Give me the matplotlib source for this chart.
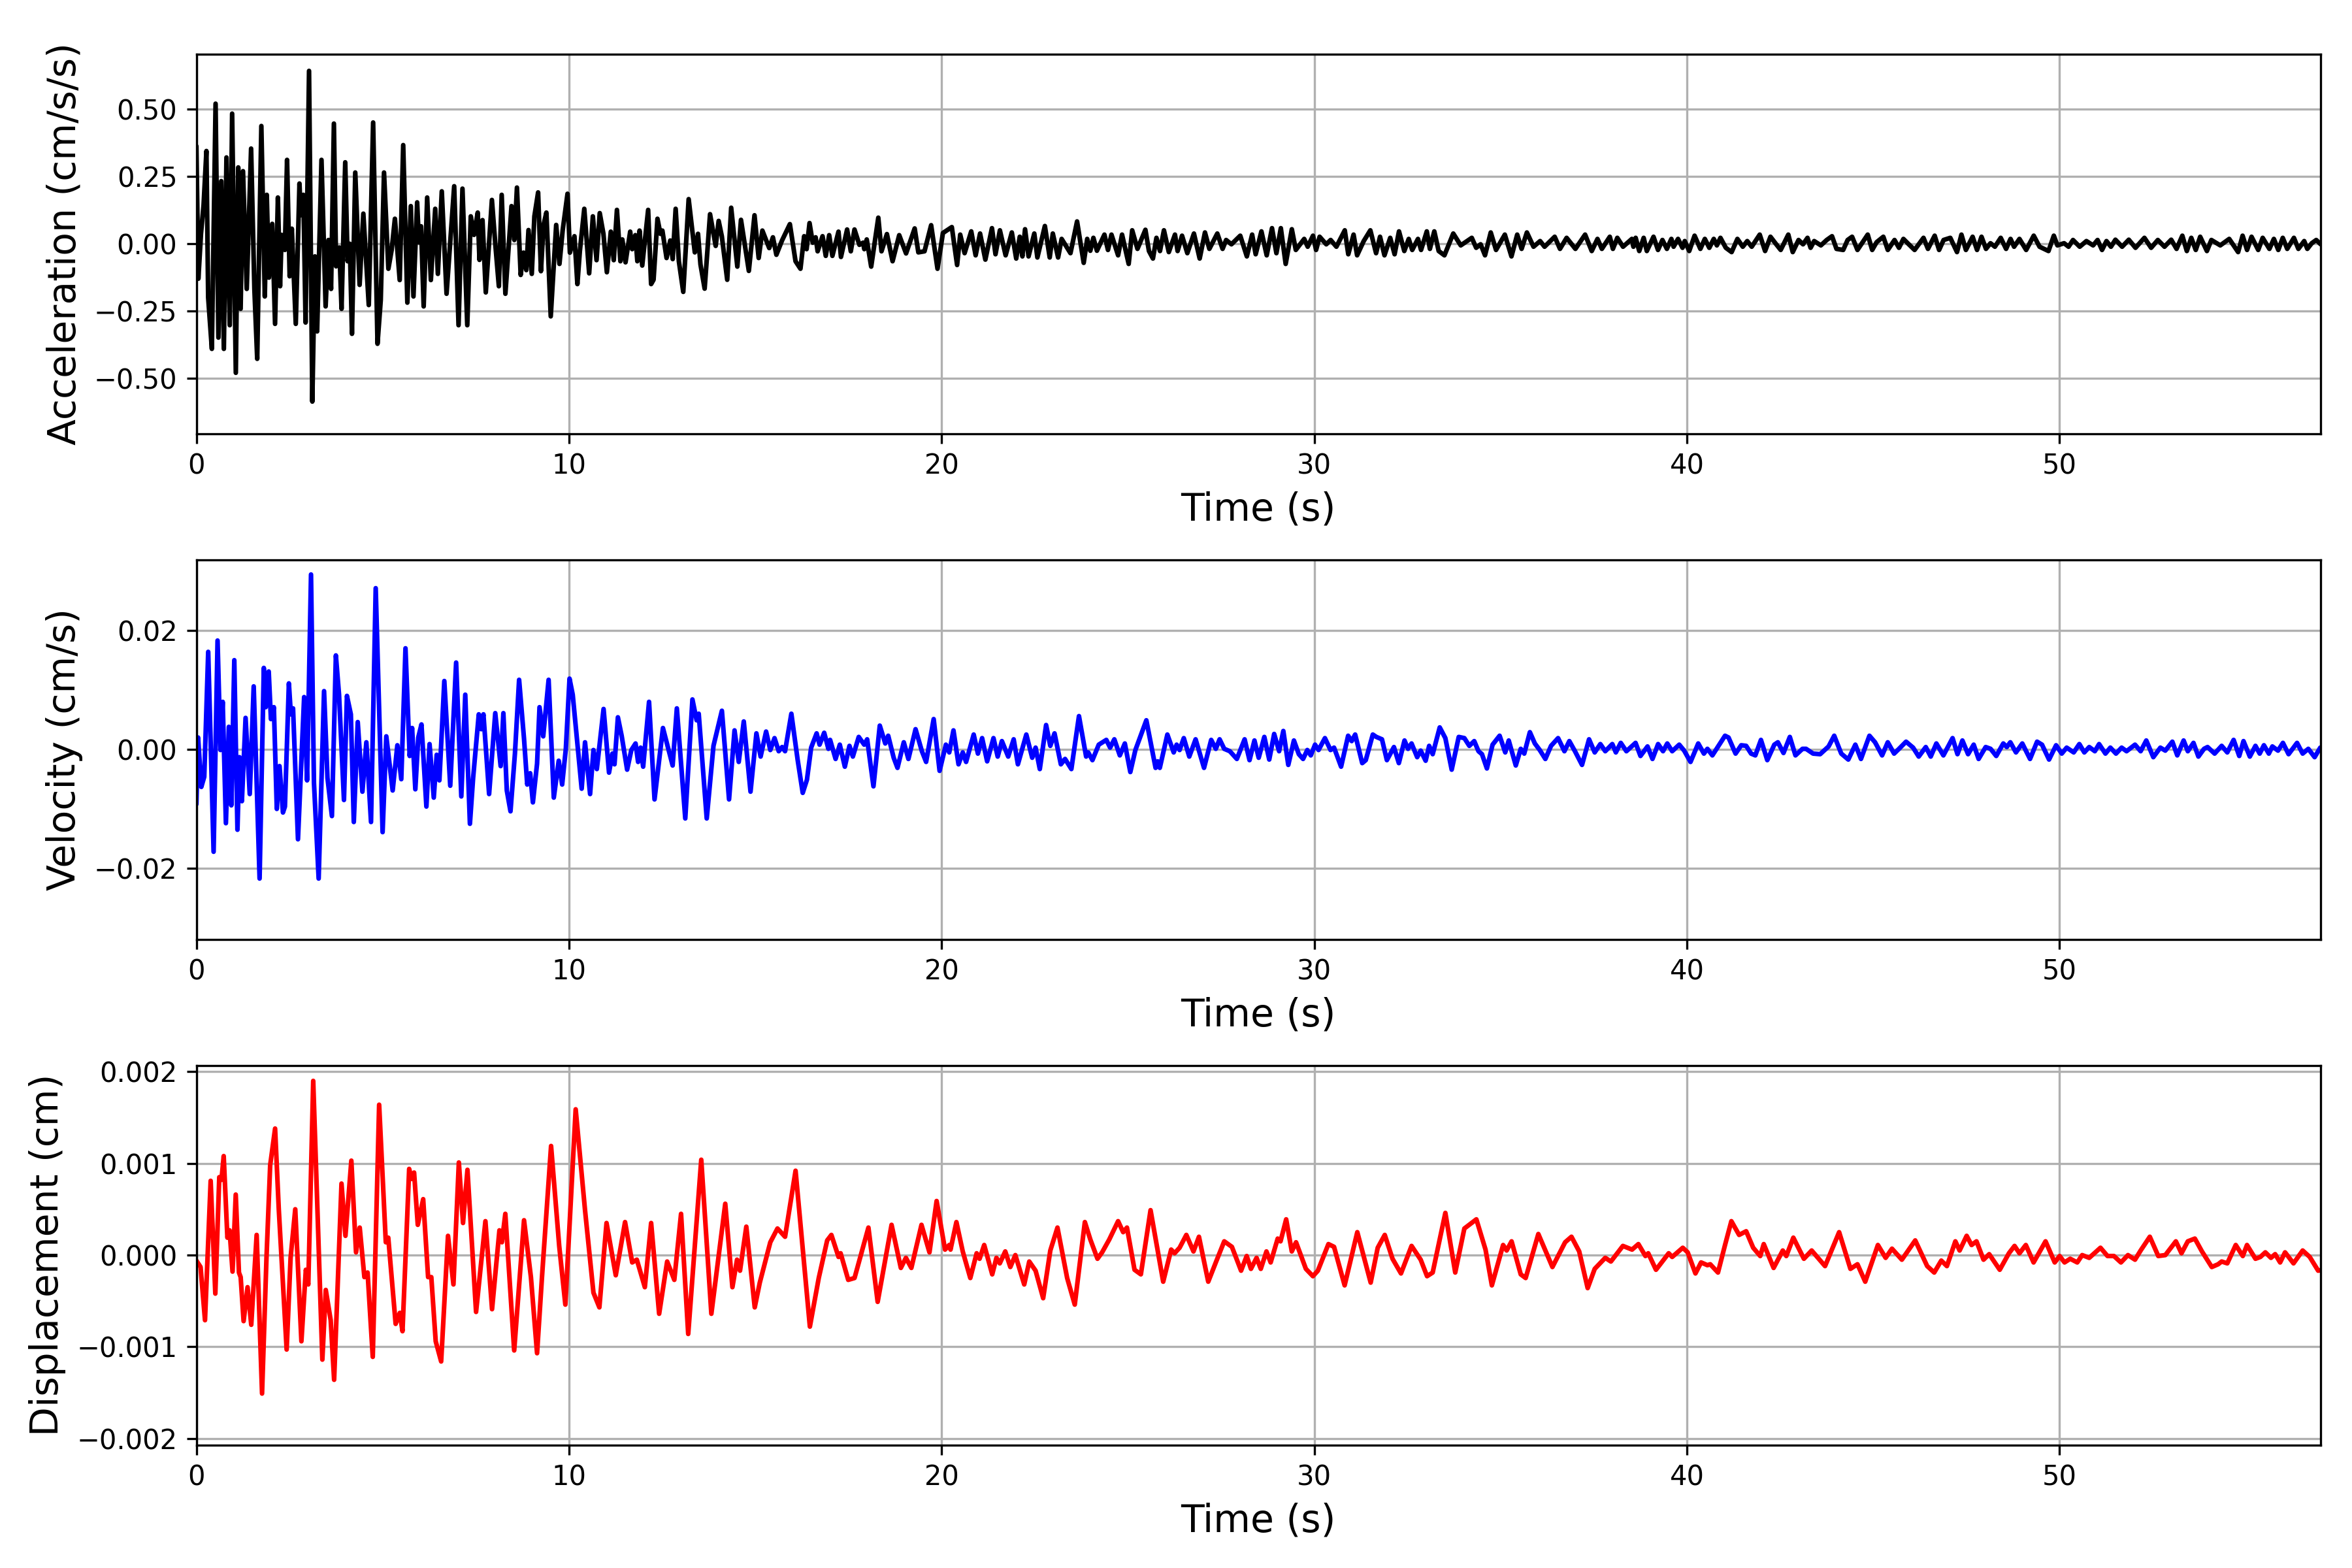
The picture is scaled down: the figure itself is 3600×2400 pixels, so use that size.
import matplotlib
matplotlib.use("Agg")
import matplotlib.pyplot as plt

# ---------------- Acceleration (cm/s/s) ----------------
acc_t = [
    0.0, 0.053, 0.123, 0.193, 0.269, 0.316, 0.415, 0.515, 0.591, 0.667,
    0.737, 0.807, 0.895, 0.959, 1.058, 1.123, 1.187, 1.251, 1.351, 1.468,
    1.556, 1.632, 1.743, 1.836, 1.889, 1.947, 2.035, 2.111, 2.187, 2.246,
    2.287, 2.374, 2.433, 2.503, 2.561, 2.667, 2.766, 2.801, 2.871, 2.930,
    3.023, 3.111, 3.181, 3.240, 3.357, 3.468, 3.544, 3.614, 3.690, 3.749,
    3.836, 3.895, 3.994, 4.058, 4.117, 4.175, 4.263, 4.380, 4.480, 4.626,
    4.743, 4.860, 4.947, 5.035,
    5.152, 5.240, 5.327, 5.456, 5.550, 5.661, 5.754, 5.825, 5.924, 5.971,
    6.029, 6.099, 6.193, 6.292, 6.409, 6.480, 6.585, 6.713, 6.918, 7.035,
    7.140, 7.269, 7.363, 7.450, 7.550, 7.596, 7.678, 7.766, 7.930, 8.029,
    8.117, 8.193, 8.292, 8.456, 8.532, 8.602, 8.702, 8.778, 8.854, 8.912,
    9.000, 9.070, 9.170, 9.246, 9.316, 9.392, 9.509, 9.655, 9.743, 9.830,
    9.959, 10.023,
    10.145, 10.224, 10.290, 10.409, 10.540, 10.639, 10.738, 10.824, 10.923, 11.015,
    11.121, 11.200, 11.285, 11.378, 11.430, 11.516, 11.641, 11.694, 11.780, 11.833,
    11.892, 11.964, 12.123, 12.202, 12.268, 12.373, 12.452, 12.505, 12.617, 12.716,
    12.782, 12.861, 12.947, 13.065, 13.210, 13.375, 13.461, 13.527, 13.639, 13.784,
    13.935, 14.015, 14.100, 14.245, 14.351, 14.516, 14.614, 14.825, 14.977, 15.089,
    15.188, 15.372, 15.471, 15.564, 15.715, 15.926, 16.078, 16.210, 16.309, 16.375,
    16.454, 16.539, 16.618, 16.671, 16.803, 16.889, 16.981, 17.067, 17.231, 17.297,
    17.462, 17.561, 17.660, 17.792, 17.891, 17.923, 17.989, 18.108, 18.299, 18.385,
    18.530, 18.682, 18.860, 19.044, 19.275, 19.374, 19.539, 19.717, 19.888, 20.033,
    20.272, 20.414, 20.497, 20.615, 20.793, 20.911, 21.030, 21.172, 21.349, 21.444,
    21.562, 21.716, 21.882, 22.000, 22.095, 22.166, 22.237, 22.331, 22.485, 22.568,
    22.769, 22.899, 22.982, 23.124, 23.219, 23.456, 23.633, 23.811, 23.905, 23.988,
    24.071, 24.166, 24.367, 24.462, 24.556, 24.734, 24.840, 25.018, 25.112, 25.254,
    25.467, 25.562, 25.669, 25.763, 25.858, 25.964, 26.095, 26.260, 26.331, 26.450,
    26.592, 26.769, 26.923, 27.065, 27.183, 27.396, 27.538, 27.633, 27.775, 28.012,
    28.189, 28.331, 28.426, 28.580, 28.722, 28.864, 28.982, 29.101, 29.231, 29.396,
    29.503, 29.728, 29.822, 29.964, 30.047, 30.142, 30.320, 30.438, 30.592, 30.817,
    30.911, 31.053, 31.148, 31.325, 31.503, 31.657, 31.763, 31.882, 32.036, 32.154,
    32.272, 32.414, 32.533, 32.627, 32.781, 32.864, 33.018, 33.101, 33.219, 33.337,
    33.491, 33.728, 33.929, 34.225, 34.343, 34.462, 34.580, 34.734, 34.876, 35.112,
    35.290, 35.444, 35.562, 35.704, 35.882, 36.059, 36.178, 36.450, 36.592, 36.770,
    37.006, 37.266, 37.444, 37.598, 37.716, 37.929, 38.012, 38.130, 38.284, 38.521,
    38.563, 38.623, 38.719, 38.838, 38.922, 39.102, 39.222, 39.341, 39.461, 39.581,
    39.641, 39.760, 39.880, 39.940, 40.060, 40.204, 40.359, 40.479, 40.599, 40.719,
    40.802, 40.898, 41.042, 41.198, 41.353, 41.497, 41.617, 41.737, 41.952, 42.096,
    42.240, 42.395, 42.515, 42.719, 42.838, 42.994, 43.114, 43.234, 43.317, 43.413,
    43.593, 43.749, 43.892, 44.012, 44.192, 44.311, 44.431, 44.575, 44.850, 44.970,
    45.090, 45.269, 45.389, 45.569, 45.689, 45.808, 45.952, 46.108, 46.347, 46.467,
    46.647, 46.766, 46.886, 47.066, 47.246, 47.365, 47.485, 47.665, 47.784, 47.904,
    48.024, 48.144, 48.263, 48.419, 48.563, 48.683, 48.778, 48.922, 49.102, 49.305,
    49.461, 49.701, 49.844, 49.940, 50.120, 50.240, 50.359, 50.539, 50.719, 50.898,
    51.018, 51.138, 51.257, 51.377, 51.497, 51.677, 51.856, 52.036, 52.275, 52.455,
    52.635, 52.814, 52.994, 53.138, 53.293, 53.413, 53.533, 53.653, 53.772, 53.952,
    54.072, 54.311, 54.551, 54.790, 54.910, 55.030, 55.150, 55.329, 55.449, 55.629,
    55.749, 55.868, 55.988, 56.108, 56.287, 56.407, 56.563, 56.647, 56.766, 56.886,
    57.006,
]
acc_v = [
    0.363, -0.130, 0.037, 0.144, 0.345, -0.200, -0.391, 0.521, -0.349, 0.233,
    -0.391, 0.321, -0.303, 0.484, -0.480, 0.284, -0.242, 0.270, -0.168, 0.354,
    -0.168, -0.428, 0.438, -0.196, 0.182, -0.126, 0.074, -0.298, 0.172, -0.158,
    0.033, -0.023, 0.312, -0.121, 0.056, -0.298, 0.224, 0.107, 0.182, -0.293,
    0.643, -0.587, -0.047, -0.326, 0.312, -0.233, 0.014, -0.168, 0.447, -0.084,
    -0.014, -0.242, 0.303, -0.065, 0.0, -0.335, 0.265, -0.153, 0.112, -0.228,
    0.451, -0.372, -0.210, 0.265,
    -0.093, -0.023, 0.093, -0.135, 0.367, -0.219, 0.140, -0.196, 0.154, 0.005,
    0.065, -0.233, 0.172, -0.135, 0.130, -0.112, 0.195, -0.186, 0.214, -0.303,
    0.205, -0.303, 0.102, 0.033, 0.116, -0.060, 0.088, -0.181, 0.163, -0.014,
    -0.158, 0.182, -0.186, 0.140, 0.014, 0.209, -0.116, -0.033, -0.098, 0.051,
    -0.112, 0.102, 0.191, -0.102, 0.070, 0.116, -0.270, 0.070, -0.075, 0.051,
    0.186, -0.033,
    0.028, -0.150, -0.028, 0.130, -0.110, 0.102, -0.061, 0.114, 0.037, -0.106,
    0.045, -0.061, 0.126, -0.065, 0.016, -0.069, 0.045, -0.020, 0.032, -0.065,
    0.049, -0.081, 0.126, -0.150, -0.134, 0.093, 0.037, 0.049, -0.053, 0.012,
    -0.057, 0.130, -0.065, -0.179, 0.166, -0.032, 0.037, -0.077, -0.167, 0.110,
    -0.008, 0.085, 0.028, -0.134, 0.134, -0.085, 0.089, -0.101, 0.106, -0.053,
    0.049, -0.016, 0.024, -0.041, 0.012, 0.073, -0.065, -0.093, 0.028, -0.020,
    0.077, 0.004, 0.024, -0.028, 0.028, -0.045, 0.032, -0.045, 0.045, -0.049,
    0.053, -0.028, 0.053, -0.004, 0.004, -0.020, 0.016, -0.085, 0.097, -0.028,
    0.036, -0.065, 0.032, -0.036, 0.057, -0.032, -0.028, 0.069, -0.093, 0.040,
    0.062, -0.079, 0.034, -0.035, 0.046, -0.043, 0.038, -0.059, 0.058, -0.039,
    0.050, -0.043, 0.042, -0.055, 0.026, -0.047, 0.054, -0.047, 0.038, -0.051,
    0.066, -0.051, 0.038, -0.051, 0.018, -0.035, 0.083, -0.071, 0.018, -0.026,
    0.022, -0.026, 0.034, -0.023, 0.034, -0.043, 0.034, -0.075, 0.050, -0.019,
    0.052, -0.027, -0.055, 0.022, -0.027, 0.050, -0.031, 0.034, -0.027, 0.030,
    -0.035, 0.038, -0.055, 0.042, -0.019, 0.038, -0.019, 0.014, -0.002, 0.030,
    -0.047, 0.034, -0.039, 0.046, -0.043, 0.058, -0.035, 0.058, -0.075, 0.054,
    -0.023, 0.018, -0.011, 0.030, -0.023, 0.026, -0.002, 0.014, -0.011, 0.050,
    -0.039, 0.034, -0.043, 0.010, 0.050, -0.035, 0.026, -0.043, 0.022, -0.039,
    0.046, -0.027, 0.018, -0.023, 0.018, -0.023, 0.046, -0.019, 0.046, -0.027,
    -0.043, 0.038, -0.006, 0.022, -0.015, -0.002, -0.043, 0.042, -0.023, 0.034,
    -0.047, 0.034, -0.019, 0.042, -0.011, 0.010, -0.011, 0.026, -0.019, 0.022,
    -0.019, 0.034, -0.027, 0.018, -0.019, 0.026, -0.019, 0.022, -0.011, 0.018,
    -0.011, 0.022, -0.027, 0.022, -0.027, 0.026, -0.023, 0.014, -0.019, 0.018,
    -0.011, 0.018, -0.015, 0.010, -0.027, 0.030, -0.019, 0.018, -0.015, 0.018,
    -0.006, 0.022, -0.015, -0.031, 0.018, -0.011, 0.010, -0.011, 0.034, -0.027,
    0.026, -0.002, -0.023, 0.034, -0.031, 0.014, -0.002, 0.022, -0.015, 0.010,
    -0.006, 0.014, 0.028, -0.019, -0.023, 0.014, 0.026, -0.023, 0.034, -0.023,
    0.006, 0.026, -0.023, 0.014, -0.015, 0.018, -0.002, -0.023, 0.022, -0.019,
    0.030, -0.023, 0.014, 0.022, -0.031, 0.034, -0.023, 0.026, -0.023, 0.026,
    -0.019, 0.002, -0.011, 0.022, -0.019, 0.018, -0.011, 0.018, -0.023, 0.030,
    -0.011, -0.027, 0.030, -0.006, 0.002, -0.011, 0.014, -0.011, 0.010, -0.006,
    0.014, -0.023, 0.010, -0.011, 0.015, -0.011, 0.015, -0.015, 0.022, -0.015,
    0.014, -0.011, 0.015, -0.019, 0.030, -0.027, 0.022, -0.023, 0.026, -0.027,
    0.014, -0.006, 0.018, -0.031, 0.030, -0.023, 0.026, -0.023, 0.022, -0.019,
    0.018, -0.023, 0.022, -0.019, 0.022, -0.019, 0.010, -0.019, 0.002, 0.014,
    -0.002,
]

# ---------------- Velocity (cm/s) ----------------
vel_t = [
    0.0, 0.046, 0.132, 0.211, 0.317, 0.462, 0.568, 0.647, 0.706, 0.792,
    0.871, 0.937, 1.017, 1.102, 1.155, 1.221, 1.320, 1.432, 1.538, 1.696,
    1.809, 1.861, 1.941, 2.000, 2.079, 2.158, 2.231, 2.323, 2.376, 2.482,
    2.535, 2.594, 2.726, 2.891, 2.970, 3.076, 3.155, 3.281, 3.426, 3.518,
    3.637, 3.743, 3.828, 3.960, 4.040, 4.145, 4.224, 4.330, 4.455, 4.561,
    4.686, 4.812, 4.997, 5.096, 5.267, 5.393, 5.498, 5.611, 5.723, 5.789,
    5.875, 5.954, 6.040, 6.172, 6.257, 6.370, 6.449, 6.521, 6.653, 6.812,
    6.970, 7.109, 7.215, 7.340, 7.426, 7.578, 7.644, 7.703, 7.855, 8.020,
    8.165, 8.238, 8.330, 8.429, 8.548, 8.660, 8.792, 8.878, 8.957, 9.030,
    9.142, 9.208, 9.307, 9.452, 9.591, 9.723, 9.815, 9.914, 10.013, 10.099,
    10.339, 10.429, 10.565, 10.655, 10.746, 10.927, 11.073, 11.164, 11.220, 11.311,
    11.412, 11.559, 11.672, 11.785, 11.853, 11.921, 11.989, 12.147, 12.294, 12.520,
    12.780, 12.893, 13.119, 13.311, 13.424, 13.480, 13.695, 13.876, 14.102, 14.294,
    14.441, 14.554, 14.689, 14.870, 15.028, 15.141, 15.288, 15.401, 15.514, 15.627,
    15.718, 15.797, 15.966, 16.136, 16.271, 16.384, 16.497, 16.644, 16.723, 16.847,
    16.960, 17.006, 17.153, 17.266, 17.401, 17.525, 17.616, 17.774, 17.921, 18.000,
    18.169, 18.339, 18.486, 18.565, 18.712, 18.814, 18.983, 19.107, 19.299, 19.469,
    19.582, 19.785, 19.944, 20.113, 20.203, 20.316, 20.452, 20.565, 20.655, 20.859,
    20.972, 21.085, 21.220, 21.390, 21.503, 21.616, 21.785, 21.932, 22.045, 22.271,
    22.429, 22.520, 22.633, 22.802, 22.915, 23.028, 23.198, 23.311, 23.480, 23.684,
    23.876, 23.932, 24.045, 24.215, 24.418, 24.520, 24.633, 24.780, 24.915, 25.062,
    25.198, 25.492, 25.740, 25.797, 25.853, 26.056, 26.226, 26.305, 26.384, 26.497,
    26.644, 26.814, 27.040, 27.232, 27.356, 27.458, 27.582,
    27.732, 27.921, 28.129, 28.261, 28.393, 28.507, 28.658, 28.790, 28.922, 29.055,
    29.168, 29.301, 29.452, 29.584, 29.698, 29.811, 29.905, 30.019, 30.113, 30.284,
    30.435, 30.529, 30.718, 30.907, 31.002, 31.096, 31.285, 31.380, 31.569, 31.664,
    31.815, 31.947, 32.136, 32.268, 32.420, 32.514, 32.609, 32.760, 32.854, 32.987,
    33.081, 33.176, 33.365, 33.516, 33.686, 33.875, 34.026, 34.159, 34.291, 34.405,
    34.499, 34.631, 34.783, 34.972, 35.123, 35.217, 35.406, 35.539, 35.633, 35.784,
    35.917, 36.049, 36.200, 36.352, 36.541, 36.711, 36.843, 36.994, 37.183, 37.372,
    37.524, 37.675, 37.807, 37.996, 38.091, 38.223, 38.374, 38.620, 38.752, 38.941,
    39.074, 39.225, 39.357, 39.471, 39.603, 39.792, 39.924, 40.095, 40.302, 40.454,
    40.548, 40.681, 41.021, 41.115, 41.304, 41.456, 41.588, 41.720, 41.834, 41.985,
    42.155, 42.344, 42.439, 42.590, 42.760, 42.911, 43.100, 43.195, 43.384, 43.573,
    43.800, 43.951, 44.140, 44.329, 44.518, 44.669, 44.896, 45.047, 45.236, 45.388,
    45.558, 45.690, 45.879, 46.068, 46.219, 46.408, 46.541, 46.692, 46.881, 47.127,
    47.259, 47.391, 47.543, 47.694, 47.826, 48.015, 48.147, 48.299, 48.488, 48.582,
    48.677, 48.828, 48.998, 49.206, 49.395, 49.527, 49.716, 49.905, 50.057, 50.189,
    50.378, 50.529, 50.662, 50.794, 50.945, 51.059, 51.229, 51.361, 51.512, 51.664,
    51.796, 52.023, 52.174, 52.325, 52.514, 52.703, 52.836, 53.025, 53.157, 53.327,
    53.440, 53.592, 53.724, 53.875, 53.970, 54.159, 54.348, 54.499, 54.669, 54.820,
    54.934, 55.104, 55.255, 55.369, 55.482, 55.614, 55.709, 55.860, 55.992, 56.144,
    56.371, 56.522, 56.673, 56.843, 56.994, 57.05,
]
vel_v = [
    -0.0092, 0.0020, -0.0063, -0.0046, 0.0164, -0.0172, 0.0183, -0.0001, 0.0080, -0.0124,
    0.0038, -0.0094, 0.0150, -0.0135, -0.0013, -0.0087, 0.0053, -0.0075, 0.0106, -0.0217,
    0.0137, 0.0071, 0.0131, 0.0051, 0.0071, -0.0100, -0.0028, -0.0106, -0.0096, 0.0111,
    0.0059, 0.0069, -0.0151, 0.0088, -0.0052, 0.0294, -0.0056, -0.0217, 0.0098, -0.0048,
    -0.0112, 0.0158, 0.0092, -0.0085, 0.0090, 0.0059, -0.0122, 0.0046, -0.0071, 0.0012,
    -0.0122, 0.0271, -0.0139, 0.0022, -0.0069, 0.0007, -0.0050, 0.0170, -0.0011, 0.0036,
    -0.0067, 0.0020, 0.0042, -0.0096, 0.0009, -0.0081, -0.0009, -0.0052, 0.0115, -0.0061,
    0.0146, -0.0079, 0.0092, -0.0125, -0.0048, 0.0059, 0.0034, 0.0059, -0.0075, 0.0061,
    -0.0028, 0.0061, -0.0069, -0.0104, -0.0007, 0.0117, 0.0018, -0.0059, -0.0040, -0.0089,
    -0.0024, 0.0071, 0.0022, 0.0117, -0.0081, -0.0019, -0.0059, 0.0001, 0.0119, 0.0092,
    -0.0066, 0.0012, -0.0075, -0.0001, -0.0033, 0.0068, -0.0039, -0.0007, -0.0025, 0.0054,
    0.0023, -0.0034, -0.0001, 0.0010, -0.0021, 0.0003, -0.0029, 0.0080, -0.0084, 0.0036,
    -0.0027, 0.0069, -0.0116, 0.0084, 0.0049, 0.0060, -0.0116, 0.0006, 0.0065, -0.0084,
    0.0032, -0.0021, 0.0047, -0.0071, 0.0027, -0.0012, 0.0030, -0.0001, 0.0019, -0.0003,
    0.0004, -0.0003, 0.0060, -0.0018, -0.0073, -0.0051, 0.0003, 0.0027, 0.0008, 0.0028,
    0.0001, 0.0016, -0.0016, 0.0008, -0.0029, 0.0006, -0.0012, 0.0021, 0.0008, 0.0017,
    -0.0062, 0.0040, 0.0010, 0.0023, -0.0014, -0.0031, 0.0012, -0.0016, 0.0034, -0.0003,
    -0.0021, 0.0051, -0.0036, 0.0008, -0.0005, 0.0032, -0.0025, -0.0005, -0.0021, 0.0025,
    -0.0007, 0.0019, -0.0020, 0.0019, -0.0012, 0.0014, -0.0012, 0.0017, -0.0025, 0.0025,
    -0.0014, 0.0003, -0.0033, 0.0041, 0.0006, 0.0027, -0.0025, -0.0016, -0.0033, 0.0056,
    -0.0012, -0.0005, -0.0018, 0.0008, 0.0016, 0.0003, 0.0017, -0.0010, 0.0010, -0.0038,
    -0.0001, 0.0049, -0.0031, -0.0020, -0.0031, 0.0025, -0.0005, 0.0008, -0.0001, 0.0019,
    -0.0012, 0.0017, -0.0031, 0.0016, 0.0001, 0.0017, 0.0001,
    -0.0003, -0.0016, 0.0017, -0.0018, 0.0015, -0.0014, 0.0021, -0.0017, 0.0026, -0.0003,
    0.0031, -0.0026, 0.0015, -0.0008, -0.0016, -0.0001, -0.0010, 0.0008, -0.0001, 0.0019,
    -0.0001, 0.0003, -0.0029, 0.0023, 0.0014, 0.0025, -0.0023, -0.0018, 0.0025, 0.0021,
    0.0017, -0.0018, 0.0004, -0.0023, 0.0015, 0.0001, 0.0010, -0.0013, -0.0002, -0.0019,
    0.0006, -0.0008, 0.0037, 0.0019, -0.0034, 0.0021, 0.0019, 0.0006, 0.0014, -0.0003,
    -0.0008, -0.0032, 0.0008, 0.0023, -0.0005, 0.0015, -0.0027, 0.0001, -0.0007, 0.0029,
    0.0010, -0.0001, -0.0016, 0.0006, 0.0019, -0.0003, 0.0014, -0.0003, -0.0026, 0.0017,
    -0.0005, 0.0009, -0.0003, 0.0009, -0.0005, 0.0011, -0.0003, 0.0011, -0.0011, 0.0005,
    -0.0016, 0.0009, -0.0003, 0.0010, -0.0003, 0.0008, -0.0002, -0.0021, 0.0010, -0.0007,
    0.0001, -0.0010, 0.0023, 0.0020, -0.0007, 0.0007, 0.0006, -0.0007, -0.0010, 0.0016,
    -0.0018, 0.0008, 0.0012, -0.0006, 0.0021, -0.0010, 0.0001, 0.0001, -0.0007, -0.0008,
    0.0005, 0.0023, -0.0007, -0.0017, 0.0008, -0.0016, 0.0023, 0.0012, -0.0010, 0.0012,
    -0.0007, 0.0001, 0.0013, 0.0003, -0.0012, 0.0004, -0.0012, 0.0010, -0.0010, 0.0019,
    -0.0008, 0.0015, -0.0008, 0.0008, -0.0016, 0.0004, 0.0001, -0.0011, 0.0010, 0.0004,
    0.0012, -0.0005, 0.0010, -0.0016, 0.0013, 0.0008, -0.0017, 0.0007, -0.0007, 0.0003,
    -0.0005, 0.0009, -0.0005, 0.0004, -0.0003, 0.0009, -0.0007, 0.0003, -0.0007, 0.0003,
    -0.0003, 0.0008, -0.0003, 0.0015, -0.0013, 0.0003, -0.0002, 0.0013, -0.0010, 0.0015,
    -0.0003, 0.0011, -0.0012, 0.0001, 0.0004, -0.0007, 0.0006, -0.0005, 0.0016, -0.0011,
    0.0014, -0.0012, 0.0006, -0.0007, 0.0007, -0.0007, 0.0005, -0.0002, 0.0011, -0.0008,
    0.0011, -0.0007, 0.0001, -0.0013, 0.0003, -0.0003,
]

# ---------------- Displacement (cm) ----------------
dis_t = [
    0.0, 0.112, 0.231, 0.383, 0.508, 0.614, 0.673, 0.733, 0.832, 0.891,
    0.970, 1.056, 1.142, 1.188, 1.267, 1.373, 1.472, 1.617, 1.762, 1.881,
    1.980, 2.112, 2.211, 2.422, 2.528, 2.653, 2.818, 2.937, 3.003, 3.135,
    3.380, 3.472, 3.604, 3.696, 3.894, 4.000, 4.158, 4.284, 4.383, 4.508,
    4.594, 4.733, 4.904, 5.083, 5.149, 5.347, 5.459, 5.531, 5.710, 5.776,
    5.842, 5.941, 6.086, 6.218, 6.304, 6.422, 6.568, 6.752, 6.898, 7.043,
    7.155, 7.274, 7.505, 7.756, 7.934, 8.132, 8.198, 8.290, 8.528, 8.792,
    8.977, 9.142, 9.274, 9.518, 9.736, 9.901, 10.178,
    10.429, 10.655, 10.814, 11.006, 11.254, 11.503, 11.695, 11.819, 12.034, 12.203,
    12.418, 12.633, 12.825, 13.006, 13.198, 13.548, 13.819, 14.192, 14.384, 14.508,
    14.588, 14.757, 14.983, 15.119, 15.401, 15.593, 15.797, 16.079, 16.463, 16.701,
    16.927, 17.040, 17.232, 17.288, 17.492, 17.661, 18.034, 18.282, 18.655, 18.904,
    19.040, 19.186, 19.458, 19.672, 19.864, 20.090, 20.203, 20.237, 20.395, 20.565,
    20.768, 20.938, 21.017, 21.141, 21.356, 21.469, 21.559, 21.706, 21.842, 21.977,
    22.215, 22.350, 22.520, 22.723, 22.915, 23.107, 23.367, 23.571, 23.842, 23.989,
    24.181, 24.305, 24.497, 24.734, 24.870, 24.972, 25.175, 25.345, 25.605, 25.944,
    26.158, 26.249, 26.384, 26.565, 26.757, 26.904, 27.153, 27.356, 27.582,
    27.788, 28.034, 28.185, 28.299, 28.450, 28.563, 28.715, 28.828, 29.017, 29.093,
    29.244, 29.395, 29.509, 29.773, 29.962, 30.095, 30.378, 30.529, 30.813, 31.153,
    31.512, 31.701, 31.890, 32.098, 32.325, 32.609, 32.854, 33.025, 33.176, 33.516,
    33.781, 34.026, 34.348, 34.594, 34.764, 35.066, 35.161, 35.293, 35.539, 35.671,
    36.011, 36.389, 36.730, 36.900, 37.108, 37.335, 37.524, 37.807, 37.958, 38.280,
    38.526, 38.696, 38.885, 38.960, 39.168, 39.509, 39.603, 39.887, 40.019, 40.227,
    40.378, 40.548, 40.624, 40.832, 41.021, 41.191, 41.399, 41.588, 41.777, 41.966,
    42.060, 42.325, 42.571, 42.665, 42.854, 43.138, 43.346, 43.705, 44.083, 44.386,
    44.575, 44.783, 45.123, 45.331, 45.501, 45.766, 46.125, 46.446, 46.635, 46.824,
    46.975, 47.202, 47.316, 47.505, 47.637, 47.769, 47.958, 48.110, 48.393, 48.639,
    48.790, 48.922, 49.093, 49.301, 49.622, 49.868, 50.000, 50.132, 50.284, 50.473,
    50.605, 50.794, 51.096, 51.285, 51.456, 51.645, 51.834, 52.023, 52.174, 52.420,
    52.647, 52.836, 53.119, 53.270, 53.440, 53.629, 53.819, 54.083, 54.253, 54.348,
    54.499, 54.726, 54.915, 55.028, 55.255, 55.388, 55.520, 55.671, 55.784, 55.917,
    56.049, 56.276, 56.522, 56.711, 56.938, 57.05,
]
dis_v = [
    -0.06e-3, -0.13e-3, -0.71e-3, 0.81e-3, -0.42e-3, 0.85e-3, 0.82e-3, 1.08e-3, 0.19e-3, 0.27e-3,
    -0.18e-3, 0.66e-3, -0.19e-3, -0.24e-3, -0.72e-3, -0.35e-3, -0.76e-3, 0.22e-3, -1.51e-3, -0.03e-3,
    0.98e-3, 1.38e-3, 0.50e-3, -1.03e-3, -0.03e-3, 0.50e-3, -0.94e-3, -0.16e-3, -0.32e-3, 1.90e-3,
    -1.14e-3, -0.38e-3, -0.71e-3, -1.36e-3, 0.78e-3, 0.21e-3, 1.03e-3, 0.03e-3, 0.30e-3, -0.24e-3,
    -0.19e-3, -1.11e-3, 1.64e-3, 0.14e-3, 0.19e-3, -0.75e-3, -0.63e-3, -0.83e-3, 0.94e-3, 0.83e-3,
    0.90e-3, 0.33e-3, 0.61e-3, -0.24e-3, -0.24e-3, -0.94e-3, -1.16e-3, 0.21e-3, -0.32e-3, 1.01e-3,
    0.35e-3, 0.93e-3, -0.62e-3, 0.37e-3, -0.59e-3, 0.27e-3, 0.14e-3, 0.45e-3, -1.04e-3, 0.38e-3,
    -0.24e-3, -1.07e-3, -0.24e-3, 1.19e-3, 0.10e-3, -0.54e-3, 1.59e-3,
    0.49e-3, -0.41e-3, -0.57e-3, 0.35e-3, -0.22e-3, 0.36e-3, -0.08e-3, -0.05e-3, -0.35e-3, 0.35e-3,
    -0.64e-3, -0.07e-3, -0.27e-3, 0.45e-3, -0.86e-3, 1.04e-3, -0.64e-3, 0.56e-3, -0.35e-3, -0.05e-3,
    -0.17e-3, 0.31e-3, -0.57e-3, -0.30e-3, 0.14e-3, 0.29e-3, 0.20e-3, 0.92e-3, -0.78e-3, -0.25e-3,
    0.16e-3, 0.22e-3, -0.02e-3, 0.02e-3, -0.27e-3, -0.25e-3, 0.30e-3, -0.51e-3, 0.33e-3, -0.14e-3,
    -0.03e-3, -0.14e-3, 0.33e-3, 0.03e-3, 0.59e-3, 0.06e-3, 0.11e-3, 0.06e-3, 0.36e-3, 0.04e-3,
    -0.25e-3, 0.02e-3, -0.04e-3, 0.11e-3, -0.21e-3, -0.03e-3, -0.09e-3, 0.04e-3, -0.13e-3, 0.0,
    -0.32e-3, -0.07e-3, -0.17e-3, -0.47e-3, 0.05e-3, 0.30e-3, -0.25e-3, -0.54e-3, 0.36e-3, 0.17e-3,
    -0.04e-3, 0.03e-3, 0.17e-3, 0.37e-3, 0.25e-3, 0.30e-3, -0.16e-3, -0.21e-3, 0.49e-3, -0.29e-3,
    0.06e-3, 0.02e-3, 0.08e-3, 0.22e-3, 0.04e-3, 0.20e-3, -0.29e-3, -0.08e-3, 0.15e-3,
    0.09e-3, -0.17e-3, -0.01e-3, -0.15e-3, -0.03e-3, -0.15e-3, 0.04e-3, -0.08e-3, 0.18e-3, 0.15e-3,
    0.39e-3, 0.04e-3, 0.14e-3, -0.15e-3, -0.23e-3, -0.17e-3, 0.12e-3, 0.09e-3, -0.33e-3, 0.25e-3,
    -0.30e-3, 0.08e-3, 0.22e-3, -0.04e-3, -0.20e-3, 0.10e-3, -0.05e-3, -0.23e-3, -0.19e-3, 0.46e-3,
    -0.19e-3, 0.29e-3, 0.39e-3, 0.06e-3, -0.33e-3, 0.11e-3, 0.05e-3, 0.15e-3, -0.21e-3, -0.25e-3,
    0.23e-3, -0.13e-3, 0.14e-3, 0.20e-3, 0.04e-3, -0.36e-3, -0.15e-3, -0.03e-3, -0.07e-3, 0.10e-3,
    0.06e-3, 0.12e-3, -0.01e-3, 0.02e-3, -0.16e-3, 0.02e-3, -0.02e-3, 0.08e-3, 0.03e-3, -0.20e-3,
    -0.08e-3, -0.11e-3, -0.10e-3, -0.19e-3, 0.11e-3, 0.37e-3, 0.22e-3, 0.26e-3, 0.08e-3, -0.01e-3,
    0.12e-3, -0.14e-3, 0.05e-3, -0.01e-3, 0.19e-3, -0.04e-3, 0.05e-3, -0.12e-3, 0.25e-3, -0.15e-3,
    -0.10e-3, -0.29e-3, 0.11e-3, -0.03e-3, 0.07e-3, -0.05e-3, 0.16e-3, -0.12e-3, -0.19e-3, -0.06e-3,
    -0.12e-3, 0.15e-3, 0.05e-3, 0.21e-3, 0.11e-3, 0.15e-3, -0.05e-3, 0.01e-3, -0.16e-3, 0.02e-3,
    0.10e-3, 0.02e-3, 0.11e-3, -0.08e-3, 0.15e-3, -0.08e-3, -0.01e-3, -0.08e-3, -0.04e-3, -0.08e-3,
    0.0, -0.03e-3, 0.08e-3, -0.01e-3, -0.01e-3, -0.08e-3, 0.0, -0.05e-3, 0.05e-3, 0.20e-3,
    -0.01e-3, 0.0, 0.15e-3, 0.02e-3, 0.15e-3, 0.18e-3, 0.04e-3, -0.13e-3, -0.10e-3, -0.07e-3,
    -0.09e-3, 0.11e-3, -0.01e-3, 0.11e-3, -0.04e-3, -0.02e-3, 0.03e-3, -0.03e-3, 0.01e-3, -0.08e-3,
    0.03e-3, -0.09e-3, 0.05e-3, -0.02e-3, -0.17e-3, -0.16e-3,
]

series = [
    (acc_t, acc_v, "black", "Acceleration (cm/s/s)", 0.706),
    (vel_t, vel_v, "blue", "Velocity (cm/s)", 0.0319),
    (dis_t, dis_v, "red", "Displacement (cm)", 0.00207),
]

fig, axes = plt.subplots(3, 1, figsize=(12, 8), dpi=300)
fig.subplots_adjust(left=0.0835, right=0.9866, top=0.9656, bottom=0.0785, hspace=0.332)

for ax, (t, v, color, label, lim) in zip(axes, series):
    n = min(len(t), len(v))
    ax.plot(t[:n], v[:n], color=color, linewidth=1.7,
            solid_joinstyle="round", solid_capstyle="round")
    ax.set_xlim(0, 57)
    ax.set_ylim(-lim, lim)
    ax.grid(True)
    ax.set_xlabel("Time (s)", fontsize=14)
    ax.set_ylabel(label, fontsize=14)

fig.savefig("out.png", dpi=300)
